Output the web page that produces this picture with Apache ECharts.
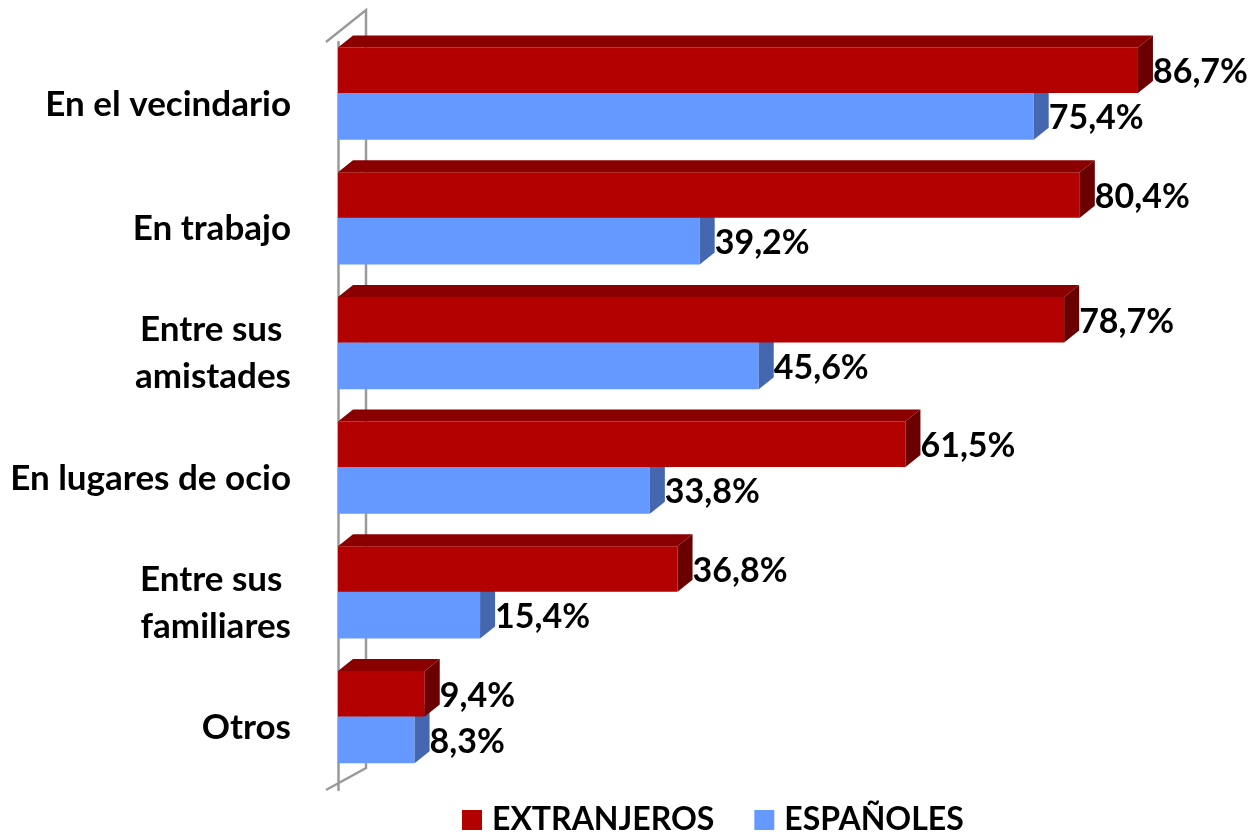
<!DOCTYPE html>
<html>
<head>
<meta charset="utf-8">
<script src="https://cdn.jsdelivr.net/npm/echarts@6/dist/echarts.min.js"></script>
<style>
html,body{margin:0;padding:0;background:#fff;}
#main{width:1249px;height:836px;}
</style>
</head>
<body>
<div id="main"></div>
<script>
// datos
var categories = ['En el vecindario', 'En trabajo', 'Entre sus \namistades', 'En lugares de ocio', 'Entre sus \nfamiliares', 'Otros'];
var extranjeros = [86.7, 80.4, 78.7, 61.5, 36.8, 9.4];
var espanoles = [75.4, 39.2, 45.6, 33.8, 15.4, 8.3];

var FONT = 'Lato, "Open Sans", sans-serif';
var DX = 15, DY = 12; // profundidad 3D

function fmt(v){ return v.toFixed(1).replace('.', ',') + '%'; }

function makeRender(front, top, side, slot){
    return function(params, api){
        var v = api.value(0), c = api.value(1);
        var end = api.coord([v, c]);
        var start = api.coord([0, c]);
        var band = api.size([0, 1])[1];
        var yc = end[1];
        var y0, y1;
        if (slot === 0) { y0 = yc - 0.455 * band; y1 = yc - 0.09 * band; }
        else { y0 = yc - 0.09 * band; y1 = yc + 0.285 * band; }
        var x0 = start[0], x1 = end[0];
        var children = [
            {type:'rect', shape:{x:x0, y:y0, width:x1 - x0, height:y1 - y0}, style:{fill:front}},
            {type:'polygon', shape:{points:[[x0,y0],[x0+DX,y0-DY],[x1+DX,y0-DY],[x1,y0]]}, style:{fill:top}},
            {type:'polygon', shape:{points:[[x1,y0],[x1+DX,y0-DY],[x1+DX,y1-DY],[x1,y1]]}, style:{fill:side}},
            {type:'text', x:x1 + DX, y:(y0 + y1) / 2 + 2, style:{
                text:fmt(v), fill:'#000', font:'bold 34px ' + FONT, verticalAlign:'middle', align:'left'}}
        ];
        return {type:'group', children:children};
    };
}

var myChart = echarts.init(document.getElementById('main'));
var option = {
    animation:false,
    grid:{left:338, right:80.6, top:42, bottom:46},
    legend:{
        left:462, top:804, padding:0,
        icon:'rect', itemWidth:20, itemHeight:20, itemGap:40,
        textStyle:{fontFamily:FONT, fontWeight:'bold', fontSize:32, color:'#000', padding:[0,0,0,5]},
        data:['EXTRANJEROS', 'ESPAÑOLES']
    },
    xAxis:{type:'value', min:0, max:90, show:false},
    yAxis:{
        type:'category', inverse:true, data:categories, offset:12,
        axisLine:{lineStyle:{color:'#9a9a9a', width:2.5}},
        axisTick:{length:8, lineStyle:{color:'#9a9a9a', width:2}},
        axisLabel:{margin:35, fontFamily:FONT, fontWeight:'bold', fontSize:35, color:'#000', lineHeight:47, align:'right'}
    },
    graphic:[{
        type:'polyline', z:0, silent:true,
        shape:{points:[[326,42],[366,10],[366,768],[326,790]]},
        style:{stroke:'#9a9a9a', lineWidth:2.5, fill:null}
    }],
    series:[
        {
            name:'EXTRANJEROS', type:'custom', z:3,
            itemStyle:{color:'#b30000'},
            encode:{x:0, y:1},
            renderItem:makeRender('#b30000', '#8a0000', '#6b0000', 0),
            data:extranjeros.map(function(v, i){ return [v, i]; })
        },
        {
            name:'ESPAÑOLES', type:'custom', z:2,
            itemStyle:{color:'#6699ff'},
            encode:{x:0, y:1},
            renderItem:makeRender('#6699ff', '#557fd6', '#4567b0', 1),
            data:espanoles.map(function(v, i){ return [v, i]; })
        }
    ]
};
myChart.setOption(option);
</script>
</body>
</html>
